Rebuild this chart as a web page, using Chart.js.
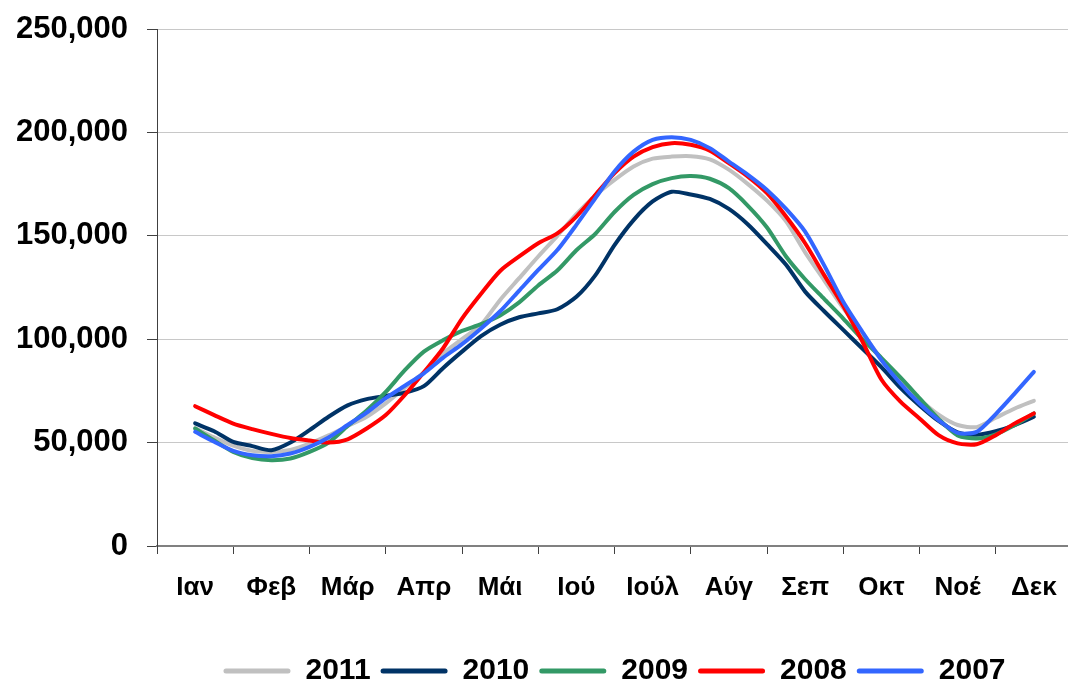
<!DOCTYPE html>
<html>
<head>
<meta charset="utf-8">
<script src="https://cdn.jsdelivr.net/npm/chart.js@4/dist/chart.umd.min.js"></script>
<style>
  html, body { margin: 0; padding: 0; background: #fff; overflow: hidden; }
  canvas { display: block; }
</style>
</head>
<body>
<canvas id="chart" width="1090" height="685"></canvas>
<script>
const months = ["Ιαν","Φεβ","Μάρ","Απρ","Μάι","Ιού","Ιούλ","Αύγ","Σεπ","Οκτ","Νοέ","Δεκ"];
const years = ["2011","2010","2009","2008","2007"];
const colors = ["#C0C0C0","#003366","#339966","#FF0000","#3366FF"];
const yTicks = [0, 50000, 100000, 150000, 200000, 250000];

// weekly values, mid January to mid December
const s2011 = [57000,52500,48500,46000,45500,46500,49500,53500,58000,62500,
  69000,76500,84000,93000,100000,107000,119000,129500,140000,150000,
  160500,169500,177000,183500,187300,188300,188500,187000,182000,175000,
  167000,157000,142000,128500,115000,103000,90500,79500,71000,63500,
  58500,57500,62000,66500,70200];
const s2010 = [59300,55500,50300,48300,46300,50000,56000,62500,68000,71000,
  72600,74100,77300,86000,94000,101500,107000,110600,112500,114500,
  120500,131000,145500,157600,166600,171300,170000,167800,163000,155500,
  146000,136000,123000,113500,104500,95500,86500,76500,68000,60500,
  55000,53800,55500,58500,62500];
const s2009 = [56800,51000,45500,42500,41500,42300,45500,50000,58000,65500,
  74500,85000,94000,99500,104000,107300,111500,117800,126000,133200,
  143000,151000,161500,169800,175000,177900,178900,177600,173000,164500,
  154000,140000,129000,119500,110000,100000,91000,81500,71500,61500,
  53500,52000,54000,58500,64100];
const s2008 = [67600,63300,59200,56500,54200,52200,51000,50000,51600,56800,
  63300,73000,84000,95500,110000,122000,133000,140000,146400,151200,
  159300,169800,180300,188300,192900,194800,194000,191200,185100,178600,
  170600,159300,146400,131000,116000,99000,80500,69800,61700,53600,
  49600,49200,53600,59300,64100];
const s2007 = [55200,50400,46000,43900,43400,44700,47900,52500,58500,64500,
  71500,77500,83500,91000,97600,105200,113500,123500,133500,143100,
  155300,168200,181100,190700,196400,197700,196400,192400,185900,179500,
  172200,163000,152000,135700,118100,103600,89900,78600,68900,60900,
  54700,55200,63800,73800,84200];

const series = [s2011, s2010, s2009, s2008, s2007];
// sample positions in month units (0 = start of January)
const weekPos = s2011.map((_, i) => 0.5 + i / 4);

const FONT = '"Liberation Sans", Arial, sans-serif';

function buildDatasets(){
  return series.map((vals, k) => ({
    label: years[k],
    data: vals.map((v, i) => ({x: weekPos[i], y: v})),
    borderColor: colors[k],
    backgroundColor: colors[k],
    borderWidth: 4,
    borderCapStyle: "round",
    borderJoinStyle: "round",
    pointRadius: 0,
    tension: 0.25,
    order: series.length - k   // later years painted on top
  }));
}

// centre the legend under the plot area and drop it a little lower
const legendUnderPlot = {
  id: "legendUnderPlot",
  afterLayout(chart){
    const lg = chart.legend;
    lg.left = chart.chartArea.left;
    lg.right = chart.chartArea.right;
    lg.top += 11;
    lg.bottom += 11;
  }
};

new Chart(document.getElementById("chart"), {
  type: "line",
  data: { datasets: buildDatasets() },
  plugins: [legendUnderPlot],
  options: {
    responsive: false,
    animation: false,
    layout: { padding: { top: 29, left: 10, right: 16, bottom: 0 } },
    plugins: {
      tooltip: { enabled: false },
      legend: {
        position: "bottom",
        labels: {
          color: "#000",
          font: { family: FONT, size: 30, weight: "bold" },
          boxWidth: 67,
          boxHeight: 5,
          padding: 10,
          useBorderRadius: true,
          borderRadius: 2.5,
          sort: (a, b) => a.datasetIndex - b.datasetIndex,
          generateLabels(chart){
            return Chart.defaults.plugins.legend.labels.generateLabels(chart)
              .map(it => Object.assign(it, { lineWidth: 0, fillStyle: colors[it.datasetIndex] }));
          }
        }
      }
    },
    scales: {
      x: {
        type: "linear",
        min: 0,
        max: 12,
        afterBuildTicks(axis){
          const t = [];
          for (let m = 0; m <= 24; m++) t.push({ value: m / 2 });
          axis.ticks = t;
        },
        ticks: {
          autoSkip: false,
          maxRotation: 0,
          padding: 18,
          color: "#000",
          font: { family: FONT, size: 26, weight: "bold" },
          callback: v => (v % 1 ? months[Math.floor(v)] : "")
        },
        grid: {
          drawOnChartArea: false,
          tickLength: 8,
          tickWidth: 1,
          tickColor: c => (c.tick && c.tick.value % 1 === 0 ? "#404040" : "rgba(0,0,0,0)")
        },
        border: { color: "#808080", width: 2 },
        afterFit(s){ s.height = 89; }
      },
      y: {
        min: 0,
        max: 250000,
        afterBuildTicks(axis){ axis.ticks = yTicks.map(v => ({ value: v })); },
        ticks: {
          padding: 19,
          color: "#000",
          font: { family: FONT, size: 31, weight: "bold" },
          callback: v => v.toLocaleString("en-US")
        },
        grid: { color: "#C8C8C8", tickColor: "#404040", tickLength: 10, lineWidth: 1 },
        border: { color: "#404040", width: 1 },
        afterFit(s){
          s.width = 147;
          s.paddingTop = 0;
          s.paddingBottom = 0;
        }
      }
    }
  }
});
</script>
</body>
</html>
